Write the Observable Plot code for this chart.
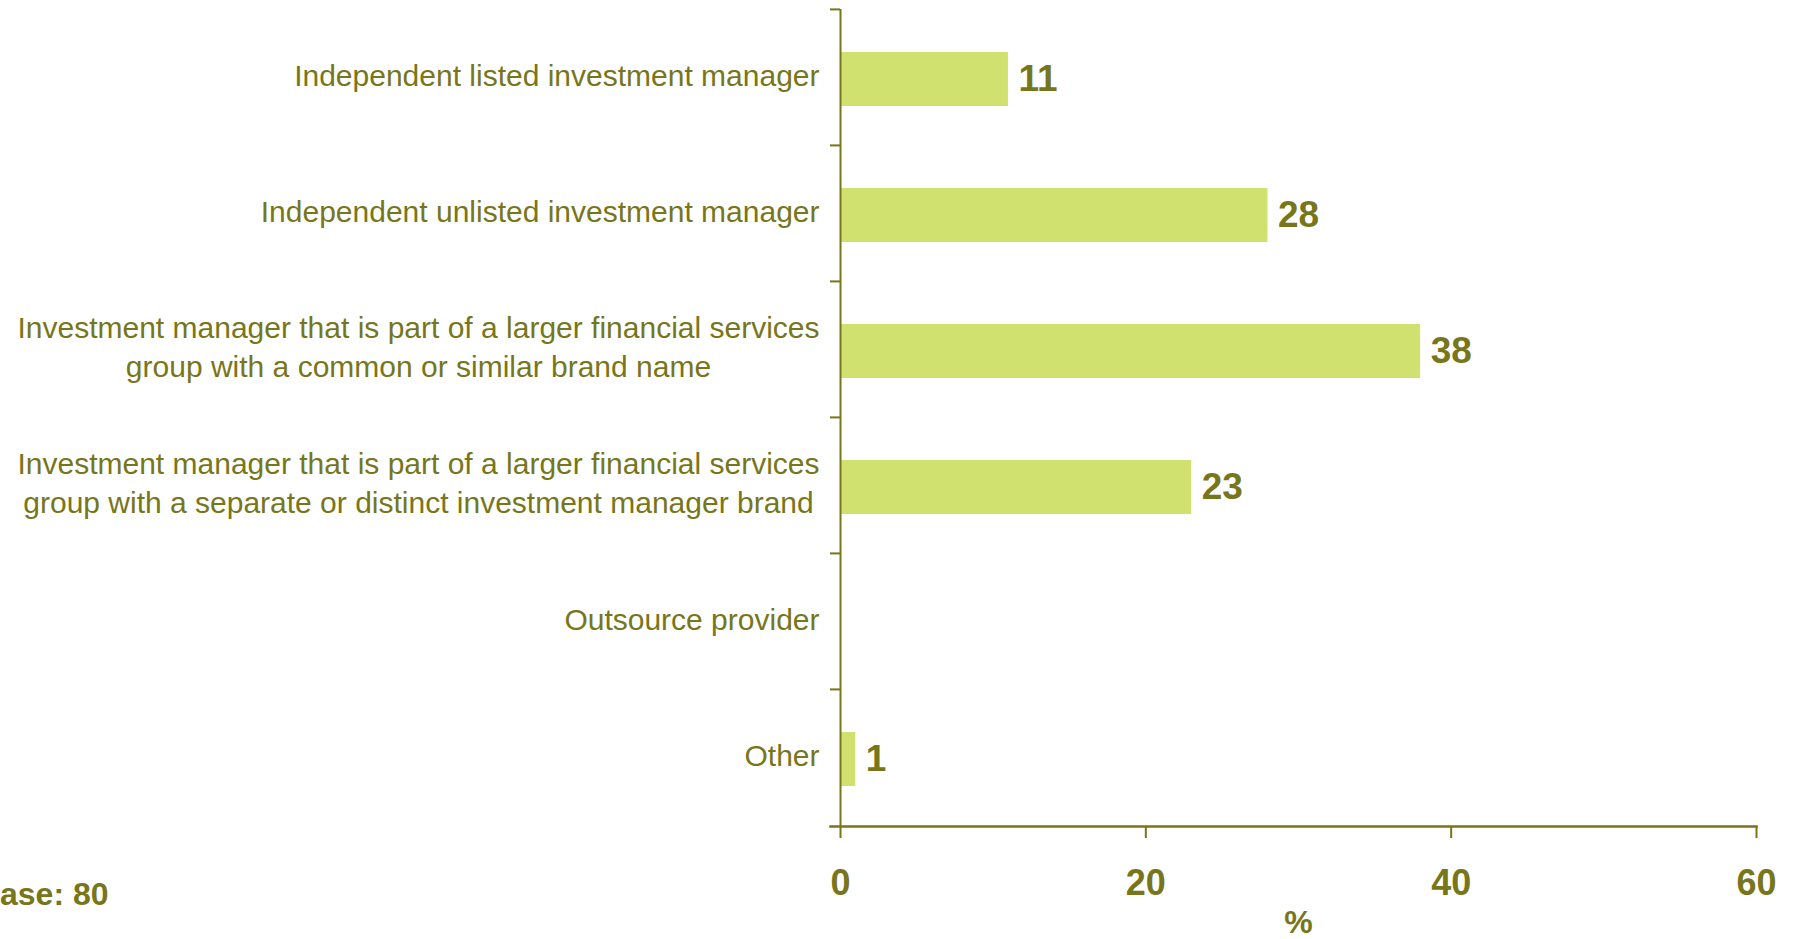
<!DOCTYPE html>
<html>
<head>
<meta charset="utf-8">
<script src="https://cdn.jsdelivr.net/npm/d3@7"></script>
<script src="https://cdn.jsdelivr.net/npm/@observablehq/plot@0.6"></script>
<style>
  html, body { margin: 0; padding: 0; background: #ffffff; }
  #chart { position: relative; width: 1793px; height: 939px; overflow: hidden; }
  #base { position: absolute; left: 0; top: 876px; font: bold 32px "Liberation Sans", Arial, sans-serif; color: #77761a; white-space: nowrap; }
</style>
</head>
<body>
<div id="chart"><div id="base">ase: 80</div></div>
<script>
const categories = [
  "Independent listed investment manager",
  "Independent unlisted investment manager",
  "Investment manager that is part of a larger financial services\ngroup with a common or similar brand name",
  "Investment manager that is part of a larger financial services\ngroup with a separate or distinct investment manager brand",
  "Outsource provider",
  "Other"
];
const values = [11, 28, 38, 23, 0, 1];
const xTicks = [0, 20, 40, 60];
const xLabel = "%";

const data = categories.map((c, i) => ({category: c, value: values[i]}));

const W = 1793, H = 939;
const mTop = 9, mBottom = 113, mLeft = 840, mRight = 37;
const step = (H - mTop - mBottom) / categories.length;
const olive = "#77761a";
const barColor = "#d1e170";
const font = "Liberation Sans, Arial, sans-serif";

const chart = Plot.plot({
  width: W,
  height: H,
  marginTop: mTop,
  marginBottom: mBottom,
  marginLeft: mLeft,
  marginRight: mRight,
  style: {fontFamily: font, color: olive, background: "transparent", overflow: "visible"},
  x: {domain: [0, 60]},
  y: {domain: categories, paddingInner: 0.6, paddingOuter: 0.3, label: null},
  marks: [
    Plot.barX(data.filter(d => d.value > 0), {x: "value", y: "category", fill: barColor, dy: 2}),
    Plot.text(data.filter(d => d.value > 0), {
      x: "value", y: "category", text: d => String(d.value),
      textAnchor: "start", dx: 10, dy: 2, fill: olive, fontSize: 37, fontWeight: "bold"
    }),
    Plot.ruleX([0], {stroke: olive, strokeWidth: 2}),
    Plot.frame({anchor: "bottom", stroke: olive, strokeWidth: 2.5, insetLeft: -10}),
    Plot.axisY({tickSize: 10, text: null, label: null, dy: -step / 2, stroke: olive, strokeWidth: 2}),
    Plot.axisY({
      tickSize: 0, tickPadding: 21, fontSize: 30, lineHeight: 1.3, dy: -4,
      fill: olive, label: null
    }),
    Plot.axisX({
      ticks: xTicks, tickSize: 12, tickPadding: 31, stroke: olive, strokeWidth: 2,
      fontSize: 36, fontWeight: "bold", fill: olive,
      label: xLabel, labelAnchor: "center", labelOffset: 106, labelArrow: "none"
    })
  ]
});

document.getElementById("chart").append(chart);

// center-align multi-line category labels while keeping them right-aligned to the axis
chart.querySelectorAll('g[aria-label="y-axis tick label"] text').forEach(t => {
  const w = t.getBBox().width;
  t.setAttribute("text-anchor", "middle");
  const spans = t.querySelectorAll("tspan");
  if (spans.length) spans.forEach(s => s.setAttribute("x", -w / 2));
  else t.setAttribute("x", -w / 2);
});
// style x-axis label
chart.querySelectorAll('g[aria-label="x-axis label"] text').forEach(t => {
  t.setAttribute("font-size", 32);
  t.setAttribute("font-weight", "bold");
  t.setAttribute("fill", olive);
});
</script>
</body>
</html>
